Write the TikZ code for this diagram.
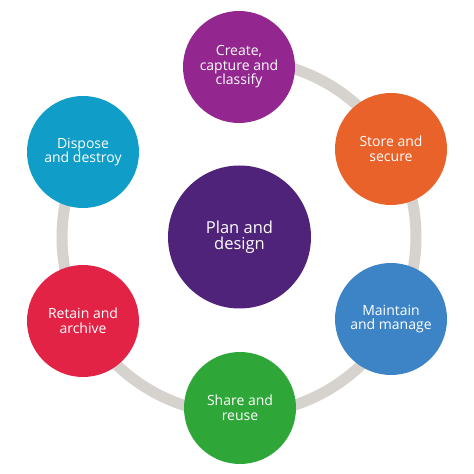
\documentclass[tikz,border=0pt]{standalone}
\usepackage{fontspec}
\setmainfont{Open Sans}
\definecolor{ringgray}{HTML}{D6D3CF}
\definecolor{cpurple}{HTML}{93278F}
\definecolor{corange}{HTML}{E8622A}
\definecolor{cblue}{HTML}{3D84C6}
\definecolor{cgreen}{HTML}{2EA738}
\definecolor{cred}{HTML}{E22346}
\definecolor{ccyan}{HTML}{109DC8}
\definecolor{cdeep}{HTML}{4F2379}
\tikzset{
  stage/.style={circle, minimum size=112pt, inner sep=0pt, text=white, align=center,
    font=\fontsize{14}{14.5}\selectfont},
  hub/.style={circle, minimum size=143pt, inner sep=0pt, fill=cdeep, text=white, align=center,
    font=\fontsize{16.5}{16.5}\selectfont},
  ring/.style={draw=ringgray, line width=11pt}
}
\begin{document}
\begin{tikzpicture}[x=1pt,y=1pt]
\useasboundingbox (0,0) rectangle (474,474);
\fill[white] (0,0) rectangle (474,474);
\coordinate (rc) at (239,237);
\draw[ring] (rc) ++(90:177) arc[start angle=90, end angle=-210, radius=177];
\node[hub] (plan) at (239.5,237) {Plan and\\design};
\node[stage, fill=cpurple] (create) at (239,407) {Create,\\capture and\\classify};
\node[stage, fill=corange] (store) at (391,325) {Store and\\secure};
\node[stage, fill=cblue] (maint) at (391,155) {Maintain\\and manage};
\node[stage, fill=cgreen] (share) at (240,66) {Share and\\reuse};
\node[stage, fill=cred] (retain) at (83,153) {Retain and\\archive};
\node[stage, fill=ccyan] (dispose) at (83,322) {Dispose\\and destroy};
\end{tikzpicture}
\end{document}
